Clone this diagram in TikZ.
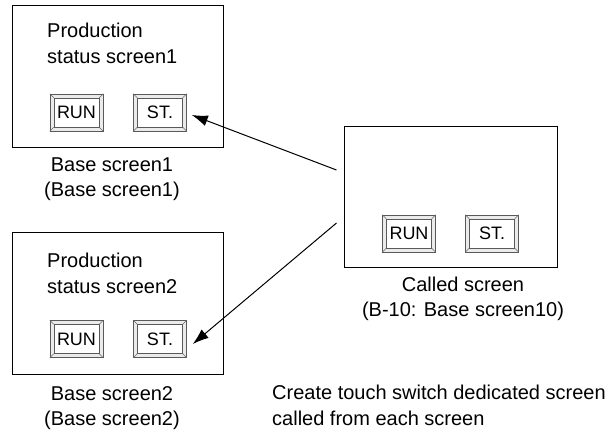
\documentclass[tikz,border=0pt]{standalone}
\usepackage{fontspec}
\setmainfont{Liberation Sans}
\usetikzlibrary{arrows.meta,positioning}

% one bevelled touch switch: name, centre, label
\newcommand{\swbtn}[3]{%
  \node[btnout] (#1) at (#2) {};
  \node[btnin] (#1-in) at (#2) {#3};
  \foreach \c in {north west,north east,south west,south east}
    \draw[black!60,line width=0.5pt] (#1.\c) -- (#1-in.\c);
}

\begin{document}
\begin{tikzpicture}[
      x=1pt,y=-1pt,
      screen/.style={draw,line width=1pt,minimum width=211pt,minimum height=142pt,inner sep=0pt},
      btnout/.style={draw=black!65,fill=black!8,line width=0.6pt,minimum width=53pt,minimum height=37pt,inner sep=0pt},
      btnin/.style={draw=black!65,fill=white,line width=0.6pt,minimum width=45pt,minimum height=29pt,inner sep=0pt,font=\fontsize{18}{20}\selectfont},
      txt/.style={align=left,anchor=base west,inner sep=0pt,font=\fontsize{20}{26}\selectfont},
      lbl/.style={align=center,anchor=base,inner sep=0pt,font=\fontsize{20}{25}\selectfont},
      >={Latex[length=16pt,width=11pt]}
]
\useasboundingbox (0,0) rectangle (616,434);
% base screens
\node[screen] (base1) at (117.5,76.5) {};
\node[screen] (base2) at (117.5,303) {};
\node[txt] (title1) at (47,63) {Production\\status screen1};
\node[txt] (title2) at (47,293) {Production\\status screen2};
\swbtn{run1}{76.5,112.5}{RUN}
\swbtn{st1}{160,112.5}{ST.}
\swbtn{run2}{76.5,339}{RUN}
\swbtn{st2}{160,339}{ST.}
\node[lbl] (name1) at (112,196) {Base screen1\\(Base screen1)};
\node[lbl] (name2) at (112,425) {Base screen2\\(Base screen2)};
% called screen
\node[screen,minimum width=213pt,minimum height=141pt] (called) at (450.5,196.5) {};
\swbtn{run3}{409,233.5}{RUN}
\swbtn{st3}{492,233.5}{ST.}
\node[lbl] (name3) at (463,316) {Called screen\\(B-10: Base screen10)};
\node[txt] (note) at (272,425) {Create touch switch dedicated screen\\called from each screen};
% calls
\coordinate (from1) at ([xshift=-7pt,yshift=26.5pt]called.west);
\coordinate (from2) at ([xshift=-7pt,yshift=-26.5pt]called.west);
\draw[->,line width=1pt] (from1) -- ([xshift=5pt,yshift=-2.5pt]st1.east);
\draw[->,line width=1pt] (from2) -- ([xshift=6pt,yshift=-5pt]st2.east);
\end{tikzpicture}
\end{document}
